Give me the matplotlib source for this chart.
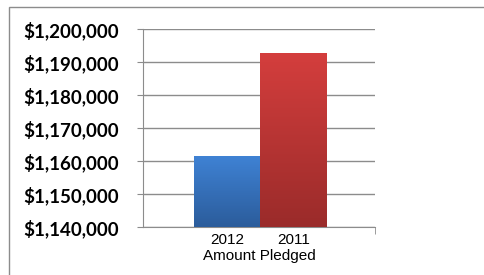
import numpy as np
import matplotlib
matplotlib.use("Agg")
import matplotlib.pyplot as plt
from matplotlib.colors import LinearSegmentedColormap
from matplotlib.patches import Rectangle

# Données
years = ["2012", "2011"]
pledged = [1161500, 1192700]
y_ticks = [1140000, 1150000, 1160000, 1170000, 1180000, 1190000, 1200000]
axis_title = "Amount Pledged"

# Dégradés (haut -> bas)
grad_colors = [("#3f82d4", "#2b5c9b"), ("#d43e3d", "#9a2b2a")]

fig = plt.figure(figsize=(4.84, 2.75), dpi=100)
ax = fig.add_axes([143 / 484, 1 - 227 / 275, 232 / 484, 198 / 275])

ymin, ymax = y_ticks[0], y_ticks[-1]
ax.set_ylim(ymin, ymax)
ax.set_xlim(-1.267, 2.23)

# Barres en dégradé
grad = np.linspace(1, 0, 256).reshape(-1, 1)
for i, (val, (c_top, c_bot)) in enumerate(zip(pledged, grad_colors)):
    cmap = LinearSegmentedColormap.from_list("g%d" % i, [c_bot, c_top])
    ax.imshow(grad, cmap=cmap, aspect="auto", extent=(i - 0.5, i + 0.5, ymin, val),
              origin="upper", zorder=3, vmin=0, vmax=1)

ax.set_yticks(y_ticks)
ax.set_yticklabels(["${:,.0f}".format(v) for v in y_ticks],
                   fontfamily="Lato", fontweight="bold", fontsize=13.5)
ax.set_xticks(range(len(years)))
ax.set_xticklabels(years, fontfamily="Liberation Sans", fontsize=11)
ax.tick_params(axis="x", length=0, pad=4)
ax.tick_params(axis="y", length=4.3, color="#8c8c8c", pad=13)
ax.set_xticks([2.23], minor=True)
ax.tick_params(axis="x", which="minor", length=5, color="#8c8c8c")
ax.set_xlabel(axis_title, fontfamily="Liberation Sans", fontsize=11, labelpad=2)

ax.grid(axis="y", color="#8c8c8c", lw=1, zorder=0)
for s in ["top", "right"]:
    ax.spines[s].set_visible(False)
for s in ["left", "bottom"]:
    ax.spines[s].set_color("#8c8c8c")

# Cadre extérieur
fig.patches.append(Rectangle((9 / 484, -0.05), 1.0, 1 - 7 / 275 + 0.05,
                             transform=fig.transFigure, fill=False,
                             edgecolor="#8c8c8c", lw=1))

fig.savefig("out.png", dpi=100)
